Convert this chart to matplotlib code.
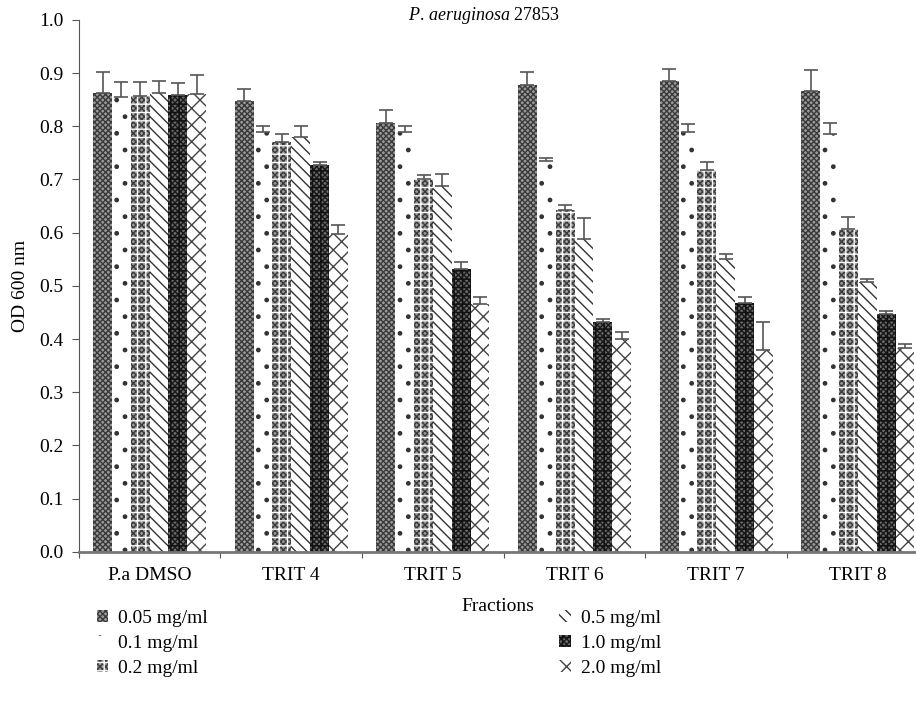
import numpy as np
import matplotlib
matplotlib.use('Agg')
import matplotlib.pyplot as plt
from matplotlib.patches import Patch
from matplotlib.legend_handler import HandlerTuple

plt.rcParams['font.family'] = ['Liberation Serif', 'DejaVu Serif']
plt.rcParams['mathtext.fontset'] = 'custom'
plt.rcParams['mathtext.it'] = 'Liberation Serif:italic'
plt.rcParams['mathtext.rm'] = 'Liberation Serif'
plt.rcParams['hatch.linewidth'] = 1.0

# data
fractions = ['P.a DMSO', 'TRIT 4', 'TRIT 5', 'TRIT 6', 'TRIT 7', 'TRIT 8']
doses = ['0.05 mg/ml', '0.1 mg/ml', '0.2 mg/ml', '0.5 mg/ml', '1.0 mg/ml', '2.0 mg/ml']

od_005 = [0.862, 0.848, 0.807, 0.878, 0.885, 0.867]
od_01 = [0.855, 0.790, 0.790, 0.735, 0.790, 0.785]
od_02 = [0.857, 0.770, 0.700, 0.643, 0.718, 0.606]
od_05 = [0.862, 0.780, 0.688, 0.588, 0.550, 0.508]
od_10 = [0.858, 0.727, 0.532, 0.433, 0.467, 0.447]
od_20 = [0.860, 0.598, 0.465, 0.400, 0.380, 0.383]

err_005 = [0.040, 0.022, 0.023, 0.024, 0.023, 0.038]
err_01 = [0.028, 0.010, 0.010, 0.005, 0.015, 0.022]
err_02 = [0.026, 0.015, 0.008, 0.009, 0.014, 0.024]
err_05 = [0.023, 0.020, 0.022, 0.040, 0.010, 0.005]
err_10 = [0.024, 0.005, 0.013, 0.005, 0.013, 0.006]
err_20 = [0.037, 0.017, 0.015, 0.013, 0.052, 0.007]

values = [od_005, od_01, od_02, od_05, od_10, od_20]
errors = [err_005, err_01, err_02, err_05, err_10, err_20]

# (face, hatch colour, hatch, overlay hatch colour, overlay hatch)
styles = [('#9a9a9a', '#3a3a3a', 'xxxxxx', None, None),
          ('white', '#333333', '.', None, None),
          ('#9a9a9a', '#3a3a3a', 'xxxxxx', 'white', '++'),
          ('white', '#333333', '\\\\\\', None, None),
          ('#6a6a6a', '#1a1a1a', 'xxxxxx', '#111111', '++'),
          ('white', '#444444', 'xx', None, None)]

fig = plt.figure(figsize=(9.16, 7.12), dpi=100)
ax = fig.add_axes([0.086, 0.225, 0.914, 0.747])

x = np.arange(len(fractions))
w = 0.133
for i in range(6):
    pos = x + (i - 2.5) * w
    fc, hc, h, oc, oh = styles[i]
    ax.bar(pos, values[i], w, color=fc, edgecolor=hc, hatch=h, linewidth=0,
           label=doses[i])
    if oh:
        ax.bar(pos, values[i], w, color='none', edgecolor=oc, hatch=oh, linewidth=0)
    ax.errorbar(pos, values[i], yerr=[np.zeros(6), errors[i]], fmt='none',
                ecolor='#555555', elinewidth=1.2, capsize=5, capthick=1.2)

ax.set_ylim(0, 1.0)
ax.set_yticks(np.arange(0, 1.01, 0.1))
ax.set_yticklabels(['%.1f' % v for v in np.arange(0, 1.01, 0.1)], fontsize=14)
ax.set_xlim(-0.5, 5.41)
ax.set_xticks(np.arange(-0.5, 5.5, 1.0))
ax.set_xticklabels([])
ax.set_xticks(x, minor=True)
ax.set_xticklabels(fractions, minor=True, fontsize=14)
ax.tick_params(axis='x', which='minor', length=0, pad=11)
ax.tick_params(axis='x', which='major', length=4, color='#555555', direction='out')
ax.tick_params(axis='y', length=5, color='#555555', direction='out', pad=6)

for s in ['top', 'right']:
    ax.spines[s].set_visible(False)
ax.spines['left'].set_color('#555555')
ax.spines['bottom'].set_color('#777777')
ax.spines['bottom'].set_linewidth(2)

ax.set_ylabel('OD 600 nm', fontsize=14)
ax.yaxis.set_label_coords(-0.060, 0.5)
ax.set_xlabel('Fractions', fontsize=14, labelpad=10)
fig.text(0.528, 0.993, r'$\mathit{P.\,aeruginosa}$ 27853', ha='center', va='top', fontsize=13)

handles = []
for s in styles:
    base = Patch(facecolor=s[0], edgecolor=s[1], hatch=s[2], linewidth=0)
    if s[4]:
        top = Patch(facecolor='none', edgecolor=s[3], hatch=s[4], linewidth=0)
        handles.append((base, top))
    else:
        handles.append(base)
leg_kw = dict(frameon=False, fontsize=14, handlelength=0.6, handleheight=0.6,
              handletextpad=0.5, labelspacing=0.4, borderpad=0,
              handler_map={tuple: HandlerTuple(ndivide=1, pad=0)})
fig.legend(handles[:3], doses[:3], loc='upper left', bbox_to_anchor=(0.095, 0.157), **leg_kw)
fig.legend(handles[3:], doses[3:], loc='upper left', bbox_to_anchor=(0.600, 0.157), **leg_kw)

fig.savefig('out.png', dpi=100)
